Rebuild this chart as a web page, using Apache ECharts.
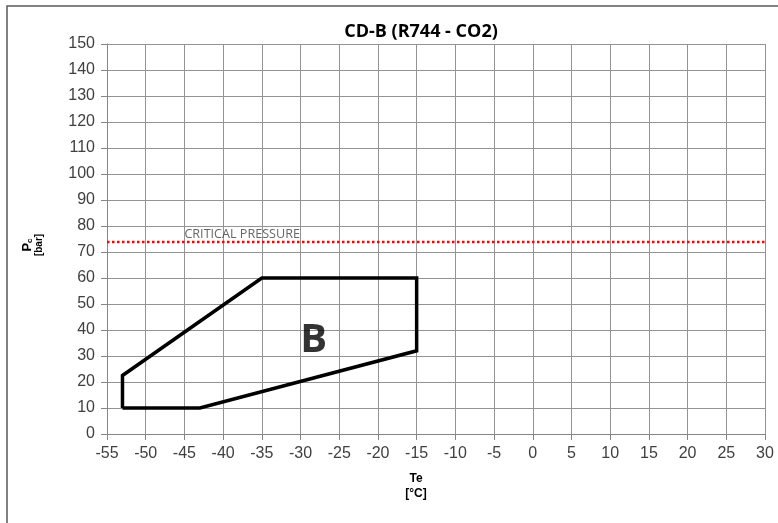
<!DOCTYPE html>
<html>
<head>
<meta charset="utf-8">
<script src="https://cdn.jsdelivr.net/npm/echarts@6/dist/echarts.min.js"></script>
<style>html,body{margin:0;padding:0;background:#fff}#c{width:778px;height:523px}</style>
</head>
<body>
<div id="c"></div>
<script>
// Envelope B (Te [°C], Pc [bar])
const envelopeTe = [-53, -53, -35, -15, -15, -43, -53];
const envelopePc = [10, 22.5, 60, 60, 32, 10, 10];
// Critical pressure of CO2
const criticalPressure = 73.8;
const criticalTe = [-55, 30];
const criticalLabel = 'CRITICAL PRESSURE';
const criticalLabelPos = [-45, 76.9];
const regionLabel = 'B';
const regionLabelPos = [-28.3, 36.0];
const xTicks = {min: -55, max: 30, interval: 5};
const yTicks = {min: 0, max: 150, interval: 10};

const chart = echarts.init(document.getElementById('c'), null, {renderer: 'canvas'});
const font = 'Liberation Sans, Arial, sans-serif';
chart.setOption({
  animation: false,
  backgroundColor: '#fff',
  title: {
    text: 'CD-B (R744 - CO2)',
    left: 416, top: 18, textAlign: 'center',
    textStyle: {fontFamily: 'Open Sans, Liberation Sans, sans-serif', fontSize: 18, fontWeight: 'bold', color: '#000'}
  },
  grid: {left: 107, top: 44, width: 658, height: 390, containLabel: false},
  xAxis: {
    type: 'value', min: xTicks.min, max: xTicks.max, interval: xTicks.interval,
    axisLine: {show: true, onZero: false, lineStyle: {color: '#868686', width: 1}},
    axisTick: {show: true, inside: false, length: 6, lineStyle: {color: '#868686'}},
    axisLabel: {margin: 12, fontSize: 16, fontFamily: font, color: '#404040'},
    splitLine: {show: true, lineStyle: {color: '#939393', width: 1}}
  },
  yAxis: {
    type: 'value', min: yTicks.min, max: yTicks.max, interval: yTicks.interval,
    axisLine: {show: true, onZero: false, lineStyle: {color: '#868686', width: 1}},
    axisTick: {show: true, inside: false, length: 6, lineStyle: {color: '#868686'}},
    axisLabel: {margin: 12, fontSize: 16, fontFamily: font, color: '#404040'},
    splitLine: {show: true, lineStyle: {color: '#939393', width: 1}}
  },
  series: [
    {
      type: 'line',
      data: criticalTe.map(t => [t, criticalPressure]),
      symbol: 'none',
      lineStyle: {color: '#ff0000', width: 2.5, type: [2.5, 2.5]},
      z: 3
    },
    {
      type: 'line',
      data: envelopeTe.map((t, i) => [t, envelopePc[i]]),
      symbol: 'none',
      lineStyle: {color: '#000', width: 3.5, join: 'miter'},
      z: 4
    },
    {
      type: 'scatter',
      data: [criticalLabelPos],
      symbolSize: 0,
      label: {show: true, position: 'right', distance: 0, formatter: criticalLabel,
        fontSize: 12.6, fontFamily: 'Open Sans, Liberation Sans, sans-serif', color: '#404040'},
      z: 5
    },
    {
      type: 'scatter',
      data: [regionLabelPos],
      symbolSize: 0,
      label: {show: true, position: 'inside', formatter: regionLabel,
        fontSize: 40, fontWeight: 'bold', fontFamily: 'Open Sans, Liberation Sans, sans-serif', color: '#000'},
      z: 5
    }
  ],
  graphic: [
    {type: 'rect', shape: {x: 7, y: 6, width: 800, height: 560}, style: {fill: 'none', stroke: '#595959', lineWidth: 1.5}, silent: true, z: 0},
    {
      type: 'text', x: 33, y: 245, rotation: Math.PI / 2,
      style: {
        text: '{p|P}{c|c}\n{b|[bar]}', align: 'center', verticalAlign: 'middle',
        rich: {
          p: {fontSize: 13, fontWeight: 'bold', fontFamily: font, fill: '#000', lineHeight: 12},
          c: {fontSize: 8, fontWeight: 'bold', fontFamily: font, fill: '#000', verticalAlign: 'bottom', lineHeight: 12},
          b: {fontSize: 10, fontWeight: 'bold', fontFamily: font, fill: '#000', lineHeight: 11}
        }
      }
    },
    {
      type: 'text', x: 416, y: 486,
      style: {
        text: 'Te\n[°C]', align: 'center', verticalAlign: 'middle',
        font: 'bold 12px Liberation Sans, Arial, sans-serif', fill: '#000', lineHeight: 15
      }
    }
  ]
});
</script>
</body>
</html>
